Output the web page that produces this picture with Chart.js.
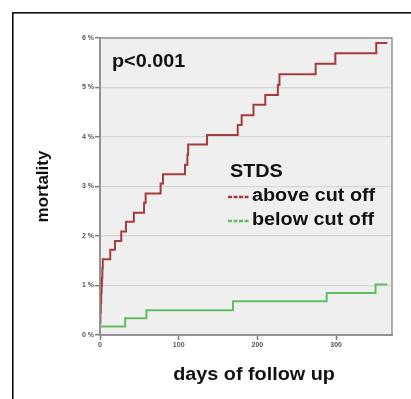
<!DOCTYPE html>
<html>
<head>
<meta charset="utf-8">
<script src="https://cdn.jsdelivr.net/npm/chart.js@4/dist/chart.umd.min.js"></script>
<style>
    body { margin: 0; background: #ffffff; }
    #wrap { position: relative; width: 411px; height: 399px; }
</style>
</head>
<body>
<div id="wrap"><canvas id="mortalityChart"></canvas></div>
<script>
// Kaplan-Meier style cumulative mortality, one step per event
const daysAbove = [0, 0.5, 1, 1.5, 2, 2.5, 3, 3.5, 13, 19, 27, 33, 43, 56, 58, 77, 80, 108, 111, 112, 136, 175, 180, 195, 210, 226, 228, 274, 299, 351, 365];
const mortalityAbove = [0.25, 0.45, 0.65, 0.85, 1.0, 1.15, 1.35, 1.53, 1.72, 1.90, 2.09, 2.29, 2.47, 2.67, 2.86, 3.06, 3.25, 3.44, 3.64, 3.85, 4.04, 4.24, 4.44, 4.65, 4.85, 5.05, 5.27, 5.48, 5.69, 5.90, 5.90];

const daysBelow = [0, 32, 59, 169, 288, 350, 365];
const mortalityBelow = [0.17, 0.34, 0.50, 0.68, 0.85, 1.02, 1.02];

const xTicks = [0, 100, 200, 300];
const yTicks = [0, 1, 2, 3, 4, 5, 6];

const seriesNames = ['above cut off', 'below cut off'];
const seriesColors = ['#a43c3c', '#62bd66'];
const legendTitle = 'STDS';
const pValueText = 'p<0.001';
const xTitle = 'days of follow up';
const yTitle = 'mortality';

function toPoints(xs, ys)
{
    return xs.map((x, i) => ({ x: x, y: ys[i] }));
}

// bold labels in the figure are slightly wider than the stock font
function wideText(ctx, text, x, y, align)
{
    ctx.save();
    ctx.translate(x, y);
    ctx.scale(1.1, 1);
    ctx.textAlign = align;
    ctx.fillText(text, 0, 0);
    ctx.restore();
}

const figurePlugin = {
    id: 'figure',
    beforeDraw(chart)
    {
        const { ctx, chartArea: a } = chart;
        ctx.save();
        ctx.fillStyle = '#efefef';
        ctx.fillRect(a.left, a.top, a.right - a.left, a.bottom - a.top);
        ctx.restore();
    },
    afterDraw(chart)
    {
        const { ctx, chartArea: a } = chart;
        ctx.save();

        // plot frame
        ctx.strokeStyle = '#959595';
        ctx.lineWidth = 1.5;
        ctx.strokeRect(a.left, a.top, a.right - a.left, a.bottom - a.top);

        // outer figure border (left and top)
        ctx.fillStyle = '#111111';
        ctx.fillRect(12, 12, 1.6, chart.height - 12);
        ctx.fillRect(12, 12, chart.width - 12, 1.6);

        ctx.fillStyle = '#111111';
        ctx.font = 'bold 18px "Liberation Sans", Arial, sans-serif';
        ctx.textBaseline = 'alphabetic';
        wideText(ctx, pValueText, a.left + 12, a.top + 29, 'left');

        // legend
        const lx = a.left + 130;
        wideText(ctx, legendTitle, lx, a.top + 139, 'left');
        seriesNames.forEach((name, i) =>
        {
            const y = a.top + 163 + i * 24;
            ctx.fillStyle = '#111111';
            wideText(ctx, name, lx + 22, y, 'left');
            ctx.strokeStyle = seriesColors[i];
            ctx.lineWidth = 2.5;
            ctx.setLineDash([4, 1.5]);
            ctx.beginPath();
            ctx.moveTo(lx - 2, y - 4);
            ctx.lineTo(lx + 19, y - 4);
            ctx.stroke();
            ctx.setLineDash([]);
        });

        // axis titles
        ctx.fillStyle = '#111111';
        wideText(ctx, xTitle, (a.left + a.right) / 2 + 8, chart.height - 19, 'center');

        ctx.font = 'bold 17px "Liberation Sans", Arial, sans-serif';
        ctx.translate(43, (a.top + a.bottom) / 2);
        ctx.rotate(-Math.PI / 2);
        ctx.textAlign = 'center';
        ctx.textBaseline = 'middle';
        ctx.fillText(yTitle, 0, 0);

        ctx.restore();
    }
};

const chartContext = document.getElementById('mortalityChart').getContext('2d');

new Chart(chartContext, {
    type: 'line',
    data: {
        datasets: seriesNames.map((name, i) => ({
            label: name,
            data: i === 0 ? toPoints(daysAbove, mortalityAbove) : toPoints(daysBelow, mortalityBelow),
            borderColor: seriesColors[i],
            borderWidth: 2,
            stepped: true,
            pointRadius: 0,
            fill: false
        }))
    },
    options: {
        responsive: true,
        maintainAspectRatio: false,
        animation: false,
        layout: {
            padding: { top: 38, right: 19, bottom: 0, left: 0 }
        },
        plugins: {
            legend: { display: false },
            tooltip: { enabled: false }
        },
        scales: {
            x: {
                type: 'linear',
                min: 0,
                max: 371,
                afterBuildTicks: (scale) =>
                {
                    scale.ticks = xTicks.map(v => ({ value: v }));
                },
                afterFit: (scale) =>
                {
                    scale.height = 64;
                },
                grid: {
                    drawOnChartArea: false,
                    drawTicks: true,
                    tickLength: 5,
                    tickColor: '#7a7a7a',
                    tickWidth: 1.5
                },
                border: { color: '#8a8a8a', width: 2 },
                ticks: {
                    padding: 1,
                    color: '#555555',
                    font: { size: 7, weight: 'bold', family: '"Liberation Sans", Arial, sans-serif' }
                }
            },
            y: {
                min: 0,
                max: 6,
                afterBuildTicks: (scale) =>
                {
                    scale.ticks = yTicks.map(v => ({ value: v }));
                },
                afterFit: (scale) =>
                {
                    scale.width = 100;
                },
                grid: {
                    color: '#d6d6d6',
                    lineWidth: 1.3,
                    drawTicks: true,
                    tickLength: 5,
                    tickColor: '#7a7a7a',
                    tickWidth: 1.5
                },
                border: { color: '#8a8a8a', width: 2 },
                ticks: {
                    padding: 1,
                    color: '#555555',
                    font: { size: 7, weight: 'bold', family: '"Liberation Sans", Arial, sans-serif' },
                    callback: (value) => value + ' %'
                }
            }
        }
    },
    plugins: [figurePlugin]
});
</script>
</body>
</html>
